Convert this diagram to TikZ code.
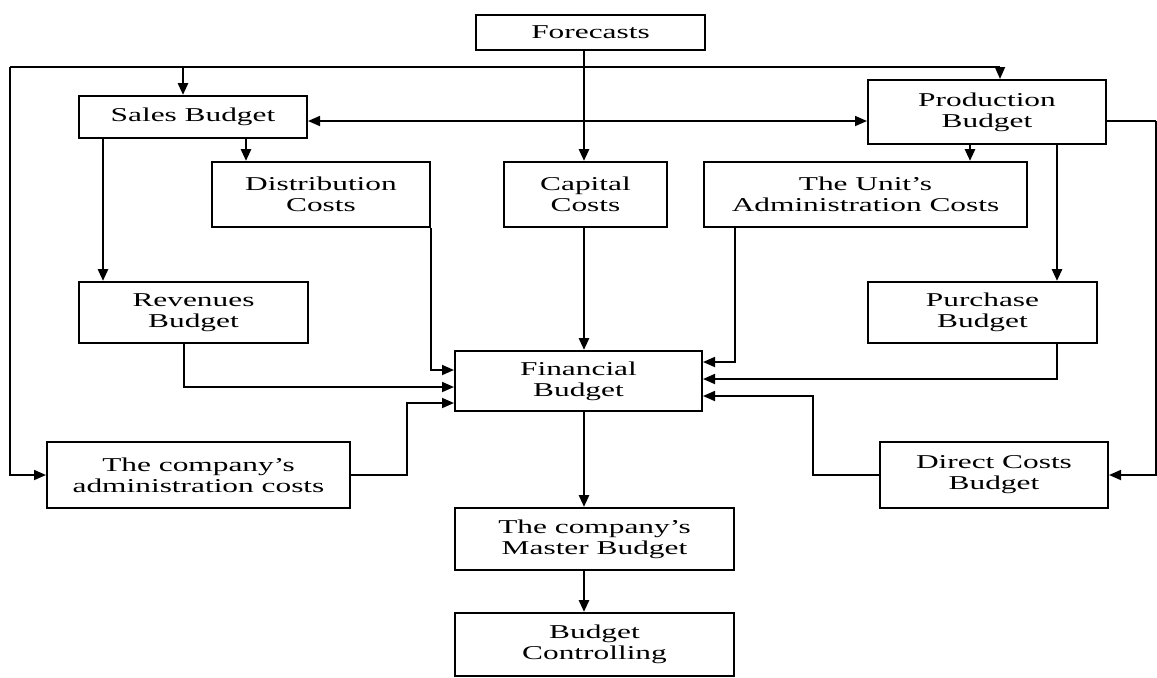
\documentclass[tikz,border=0pt]{standalone}
\usepackage{fontspec}
\setmainfont{Liberation Serif}[FakeStretch=1.6]
\usepackage{tikz}
\usetikzlibrary{arrows.meta}

\begin{document}
\begin{tikzpicture}[x=0.5pt,y=-0.5pt,
    box/.style = {draw=black, line width=1pt, align=center, inner sep=0pt,
                  font=\fontsize{9.8}{10.5}\selectfont},
    thinline/.style = {line width=0.85pt, -{Triangle[length=6pt,width=5pt]}},
    thickline/.style = {line width=1.35pt, -{Triangle[length=6pt,width=5pt]}}]
     \useasboundingbox (0,0) rectangle (1157,677);
     \node[box, minimum width=114.5pt, minimum height=17.5pt] (fc) at (590.5,32.5) {Forecasts};
     \node[box, minimum width=114pt, minimum height=21pt] (sales) at (193,117) {Sales Budget};
     \node[box, minimum width=119pt, minimum height=32pt] (prod) at (987,112) {Production\\Budget};
     \node[box, minimum width=109pt, minimum height=32.5pt] (dist) at (321,194.5) {Distribution\\Costs};
     \node[box, minimum width=81.5pt, minimum height=32.5pt] (cap) at (585.5,194.5) {Capital\\Costs};
     \node[box, minimum width=161.5pt, minimum height=32.5pt] (unit) at (865.5,194.5) {The Unit's\\Administration Costs};
     \node[box, minimum width=114.5pt, minimum height=30.5pt] (rev) at (193.5,312.5) {Revenues\\Budget};
     \node[box, minimum width=114.5pt, minimum height=30.5pt] (purch) at (982.5,312.5) {Purchase\\Budget};
     \node[box, minimum width=123.5pt, minimum height=30pt] (fin) at (578.5,381) {Financial\\Budget};
     \node[box, minimum width=151.5pt, minimum height=33pt] (cadm) at (198.5,475) {The company's\\administration costs};
     \node[box, minimum width=114pt, minimum height=33pt] (dcost) at (994,475) {Direct Costs\\Budget};
     \node[box, minimum width=139.5pt, minimum height=31pt] (master) at (594.5,539) {The company's\\Master Budget};
     \node[box, minimum width=139.5pt, minimum height=31.5pt] (ctrl) at (594.5,644.5) {Budget\\Controlling};
     % top distribution line
     \coordinate (tl) at (10,67);
     \coordinate (tr) at (1000,67);
     \coordinate (re) at (1156,121);
     \draw[line width=1.1pt] (tl) -- (tr);
     \draw[thickline] (183,67) -- (sales.north -| 183,0);
     \draw[thinline] (tr) -- (prod.north -| tr);
     \draw[thinline] (tl) |- (cadm.west);
     \draw[line width=0.85pt, {Triangle[length=6pt,width=5pt]}-{Triangle[length=6pt,width=5pt]}]
          (sales.east |- 0,121) -- (prod.west |- 0,121);
     \draw[line width=0.85pt] (prod.east |- re) -- (re);
     \draw[thinline] (re) |- (dcost.east);
     % vertical flows
     \draw[thickline] (fc.south -| 584,0) -- (cap.north -| 584,0);
     \draw[thickline] (sales.south -| 246,0) -- (dist.north -| 246,0);
     \draw[thickline] (sales.south -| 103,0) -- (rev.north -| 103,0);
     \draw[thickline] (prod.south -| 970,0) -- (unit.north -| 970,0);
     \draw[thickline] (prod.south -| 1057,0) -- (purch.north -| 1057,0);
     \draw[thickline] (cap.south -| 584,0) -- (fin.north -| 584,0);
     \draw[thickline] (fin.south -| 584,0) -- (master.north -| 584,0);
     \draw[thickline] (master.south -| 584,0) -- (ctrl.north -| 584,0);
     % into the financial budget
     \draw[thinline] (dist.south east) |- (fin.west |- 0,370);
     \draw[thinline] (rev.south -| 184,0) |- (fin.west |- 0,387);
     \draw[thinline] (cadm.east) -- ++(56,0) |- (fin.west |- 0,403);
     \draw[thinline] (unit.south -| 735,0) |- (fin.east |- 0,362);
     \draw[thinline] (purch.south -| 1057,0) |- (fin.east |- 0,379);
     \draw[thinline] (dcost.west) -- ++(-66,0) |- (fin.east |- 0,396);
\end{tikzpicture}
\end{document}
